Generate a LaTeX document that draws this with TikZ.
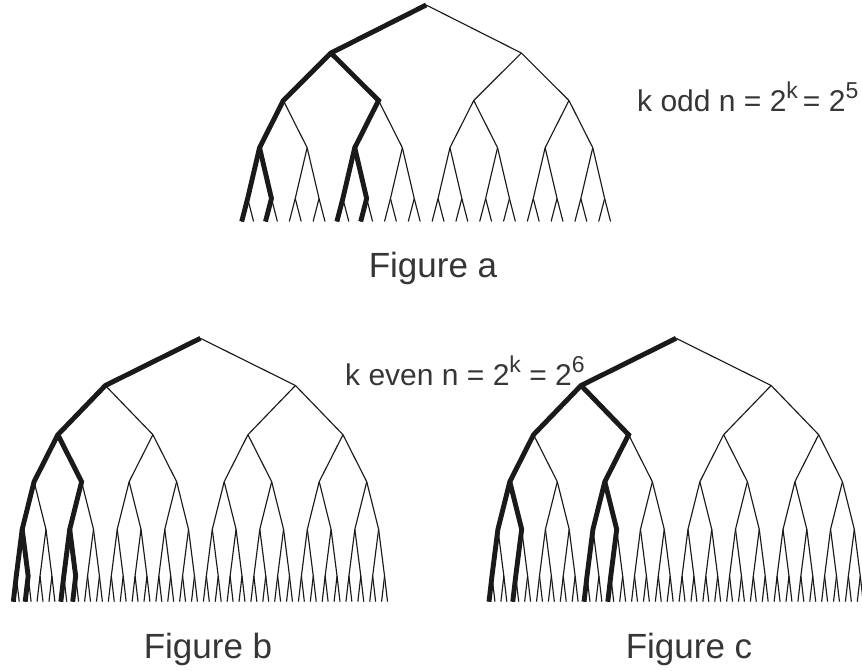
\documentclass[tikz,border=0pt]{standalone}
\usepackage{fontspec}
\setmainfont{Liberation Sans}
\definecolor{txt}{HTML}{363636}
\definecolor{ink}{HTML}{1A1A1A}
\newcommand\sups[1]{\raisebox{0.45em}{\fontsize{23pt}{23pt}\selectfont #1}}
\newcommand\buildtree[5]{%
  \foreach \l/\yy in {#5}{%
    \pgfmathtruncatemacro\nmax{2^\l-1}%
    \foreach \i in {0,...,\nmax}{%
      \pgfmathsetmacro\xx{#3+#4*((\i+0.5)*2^(#2-\l)-0.5)}%
      \coordinate (#1-\l-\i) at (\xx,\yy);
    }%
  }%
  \foreach \l in {1,...,#2}{%
    \pgfmathtruncatemacro\pl{\l-1}%
    \pgfmathtruncatemacro\nmax{2^\l-1}%
    \foreach \i in {0,...,\nmax}{%
      \pgfmathtruncatemacro\pidx{floor(\i/2)}%
      \draw[thinedge] (#1-\pl-\pidx) -- (#1-\l-\i);
    }%
  }%
}
\begin{document}
\begin{tikzpicture}[x=1pt,y=-1pt,
  thinedge/.style={draw=ink,line width=1.15pt},
  thickedge/.style={draw=ink,line width=4.9pt,line join=miter},
  lab/.style={text=txt,font=\fontsize{30pt}{30pt}\selectfont,inner sep=0pt},
  figcap/.style={text=txt,font=\fontsize{35pt}{35pt}\selectfont,inner sep=0pt}]
\useasboundingbox (0,0) rectangle (862,671);
% tree a
\buildtree{a}{5}{241.7}{11.9}{0/5,1/53,2/100.5,3/147.7,4/198.5,5/221.5}
% tree b
\buildtree{b}{6}{13.3}{5.94}{0/338.3,1/385.5,2/434.7,3/481.7,4/529.3,5/576,6/601.7}
% tree c
\buildtree{c}{6}{489}{5.94}{0/338.3,1/385.5,2/434.7,3/481.7,4/529.3,5/576,6/601.7}
% highlighted paths, tree a
\draw[thickedge] (a-0-0) -- (a-1-0) -- (a-2-0) -- (a-3-0) -- (a-4-0) -- (a-5-0);
\draw[thickedge] (a-3-0) -- (a-4-1) -- (a-5-2);
\draw[thickedge] (a-1-0) -- (a-2-1) -- (a-3-2) -- (a-4-4) -- (a-5-8);
\draw[thickedge] (a-3-2) -- (a-4-5) -- (a-5-10);
% highlighted paths, tree b
\draw[thickedge] (b-0-0) -- (b-1-0) -- (b-2-0) -- (b-3-0) -- (b-4-0) -- (b-5-0) -- (b-6-0);
\draw[thickedge] (b-4-0) -- (b-5-1) -- (b-6-2);
\draw[thickedge] (b-2-0) -- (b-3-1) -- (b-4-2) -- (b-5-4) -- (b-6-8);
\draw[thickedge] (b-4-2) -- (b-5-5) -- (b-6-10);
% highlighted paths, tree c
\draw[thickedge] (c-0-0) -- (c-1-0) -- (c-2-0) -- (c-3-0) -- (c-4-0) -- (c-5-0) -- (c-6-0);
\draw[thickedge] (c-3-0) -- (c-4-1) -- (c-5-2) -- (c-6-4);
\draw[thickedge] (c-1-0) -- (c-2-1) -- (c-3-2) -- (c-4-4) -- (c-5-8) -- (c-6-16);
\draw[thickedge] (c-3-2) -- (c-4-5) -- (c-5-10) -- (c-6-20);
% labels
\node[lab,anchor=base west] (oddlab) at (637,111.7) {k odd n = 2\sups{k}\,= 2\sups{5}};
\node[lab,anchor=base west] (evenlab) at (345,385.5) {k even n = 2\sups{k} = 2\sups{6}};
\node[figcap,anchor=base] (capa) at (433,277.3) {Figure a};
\node[figcap,anchor=base] (capb) at (208,658.3) {Figure b};
\node[figcap,anchor=base] (capc) at (689,658.3) {Figure c};
\end{tikzpicture}
\end{document}
